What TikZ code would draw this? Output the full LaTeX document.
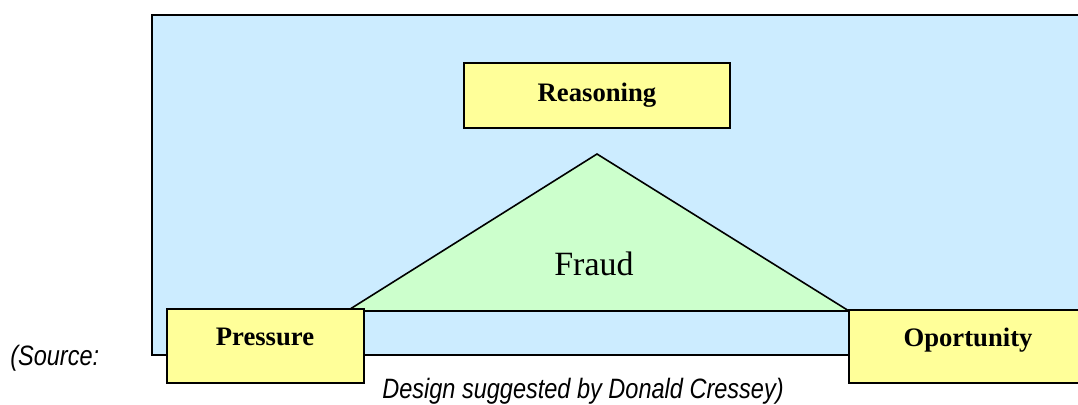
\documentclass[tikz,border=0pt]{standalone}
\usepackage{fontspec}
\usepackage{graphicx}
\setmainfont{Liberation Serif}
\setsansfont{Liberation Sans}
\definecolor{bgblue}{HTML}{CCECFF}
\definecolor{boxyellow}{HTML}{FFFF99}
\definecolor{trigreen}{HTML}{CCFFCC}
\newcommand{\narrowtxt}[1]{\scalebox{0.84}[1]{#1}}
\begin{document}
\begin{tikzpicture}[x=0.75pt,y=-0.75pt,
  factor/.style={draw=black,line width=1.2pt,fill=boxyellow},
  lbl/.style={font=\fontsize{20}{23}\selectfont\bfseries,inner sep=0pt},
  captxt/.style={font=\sffamily\itshape\fontsize{21}{24}\selectfont,inner sep=0pt}]
\useasboundingbox (0,0) rectangle (1078,404);
% background panel
\fill[bgblue] (152,15) rectangle (1090,355);
\draw[line width=2pt] (1090,15) -- (152,15) -- (152,355) -- (1090,355);
% triangle
\draw[line width=1.2pt,fill=trigreen,line join=miter] (597,154) coordinate (apex) -- (849,311) coordinate (br) -- (347,311) coordinate (bl) -- cycle;
\node[font=\fontsize{25.5}{28}\selectfont,inner sep=0pt] (fraud) at (594,264) {Fraud};
% boxes
\draw[factor] (464,63) rectangle (730,128);
\node[lbl] (reasoning) at (597,95) {Reasoning};
\draw[factor] (167,309) rectangle (364,383);
\node[lbl] (pressure) at (265,337) {Pressure};
\draw[factor] (849,310) rectangle (1095,383);
\node[lbl] (oportunity) at (968,340) {Oportunity};
% captions
\node[captxt,anchor=base west] (source) at (10,365) {\narrowtxt{(Source:}};
\node[captxt,anchor=base] (design) at (583,398) {\narrowtxt{Design suggested by Donald Cressey)}};
\end{tikzpicture}
\end{document}
